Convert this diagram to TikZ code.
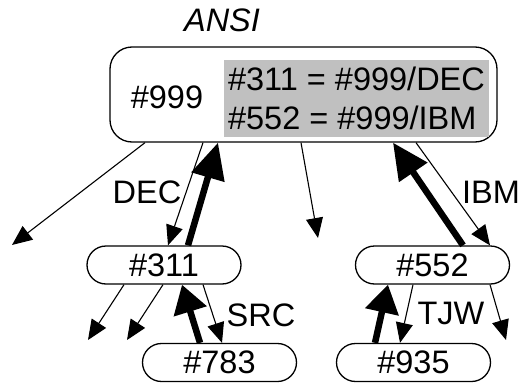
\documentclass[tikz,border=0pt]{standalone}
\usepackage{fontspec}
\setmainfont{Liberation Sans}
\usepackage{tikz}
\usetikzlibrary{arrows.meta,positioning,calc}
\definecolor{aliasgray}{RGB}{192,192,192}
\tikzstyle{box} = [draw,line width=1.3pt,rounded corners=19pt,minimum width=154pt,minimum height=38pt,inner sep=0pt]
\tikzstyle{thinarrow} = [line width=1.1pt,-{Triangle[length=20pt,width=17pt]}]
\tikzstyle{thickarrow} = [line width=6.5pt,-{Triangle[length=36pt,width=33pt]}]
\tikzstyle{shortarrow} = [line width=6.5pt,-{Triangle[length=28pt,width=33pt]}]
\tikzstyle{lbl} = [inner sep=0pt]

\begin{document}
\begin{tikzpicture}[x=1pt,y=-1pt,font=\fontsize{32.5}{39}\selectfont]
\useasboundingbox (0,0) rectangle (520,383);

% ANSI name space
\node[lbl,font=\fontsize{32.5}{39}\selectfont\itshape] (ansi) at (222,20) {ANSI};
\node[draw,line width=1.3pt,rounded corners=22pt,minimum width=387pt,minimum height=95pt] (top) at (303.5,94.5) {};
\node[lbl] (n999) at (167,97) {\#999};
\node[lbl,fill=aliasgray,minimum width=265pt,minimum height=77pt,align=left] (alias) at (356.5,98.5) {\#311 = \#999/DEC\\\#552 = \#999/IBM};

% Objects
\node[box] (n311) at (164,265) {\#311};
\node[box] (n552) at (432.5,265) {\#552};
\node[box] (n783) at (219.5,362.5) {\#783};
\node[box] (n935) at (413.5,362.5) {\#935};

% Free ends
\coordinate (e1) at (12,245);
\coordinate (e2) at (318,238);
\coordinate (e3) at (88,340);
\coordinate (e4) at (127,340);
\coordinate (e5) at (506,340);

% Arrows from ANSI
\draw[thinarrow] ([xshift=-158.5pt]top.south) -- (e1);
\draw[thinarrow] ([xshift=-100.5pt]top.south) -- ([xshift=4pt]n311.north);
\draw[thickarrow] ([xshift=24pt]n311.north) -- ([xshift=-85.5pt]top.south);
\draw[thinarrow] ([xshift=-2.5pt]top.south) -- (e2);
\draw[thinarrow] ([xshift=112.5pt]top.south) -- ([xshift=57.5pt]n552.north);
\draw[thickarrow] ([xshift=30.5pt]n552.north) -- ([xshift=89.5pt]top.south);

% Arrows below
\draw[thinarrow] ([xshift=-40pt]n311.south) -- (e3);
\draw[thinarrow] ([xshift=-1pt]n311.south) -- (e4);
\draw[shortarrow] ([xshift=-19.5pt]n783.north) -- ([xshift=18pt]n311.south);
\draw[thinarrow] ([xshift=39pt]n311.south) -- ([xshift=2.5pt]n783.north);
\draw[thinarrow] ([xshift=-19.5pt]n552.south) -- ([xshift=-13.5pt]n935.north);
\draw[shortarrow] ([xshift=-38.5pt]n935.north) -- ([xshift=-44.5pt]n552.south);
\draw[thinarrow] ([xshift=57.5pt]n552.south) -- (e5);

% Labels
\node[lbl] (dec) at (147,192) {DEC};
\node[lbl] (ibm) at (491,192) {IBM};
\node[lbl] (src) at (261,315) {SRC};
\node[lbl] (tjw) at (451,313) {TJW};
\end{tikzpicture}
\end{document}
